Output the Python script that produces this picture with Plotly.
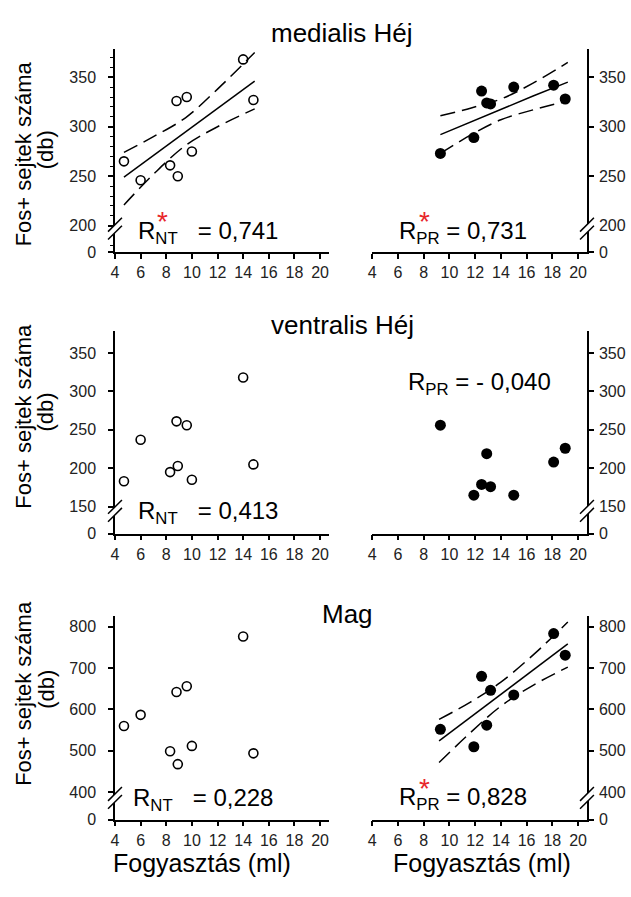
import plotly.graph_objects as go

W, H = 631, 897

# x values (Fogyasztás, ml) for the two groups
nt_x = [4.7, 6.0, 8.3, 8.8, 8.9, 9.6, 10.0, 14.0, 14.8]
pr_x = [9.3, 11.9, 12.5, 12.9, 13.2, 15.0, 18.1, 19.0]

# Fos+ cell counts
med_nt = [265, 246, 261, 326, 250, 330, 275, 368, 327]
med_pr = [273, 289, 336, 324, 323, 340, 342, 328]
ven_nt = [183, 237, 195, 261, 203, 256, 185, 318, 205]
ven_pr = [256, 165, 179, 219, 176, 165, 208, 226]
mag_nt = [560, 587, 499, 642, 468, 656, 512, 776, 494]
mag_pr = [552, 510, 680, 562, 646, 635, 783, 731]

# regression lines with confidence bands
med_nt_fx = [4.7, 7.0, 9.5, 12.0, 14.9]
med_nt_fit = [249, 271, 295, 319, 346]
med_nt_hi = [274, 290, 309, 338, 375]
med_nt_lo = [221, 252, 281, 300, 318]

med_pr_fx = [9.3, 11.7, 14.0, 16.5, 19.2]
med_pr_fit = [292, 305, 318, 331, 345]
med_pr_hi = [311, 319, 328, 344, 365]
med_pr_lo = [273, 292, 307, 317, 326]

mag_pr_fx = [9.2, 11.6, 14.0, 16.6, 19.2]
mag_pr_fit = [524, 580, 637, 697, 758]
mag_pr_hi = [576, 617, 666, 734, 811]
mag_pr_lo = [472, 543, 608, 660, 702]

x_ticks = [4, 6, 8, 10, 12, 14, 16, 18, 20]
top_ticks = [200, 250, 300, 350]
mid_ticks = [150, 200, 250, 300, 350]
bot_ticks = [400, 500, 600, 700, 800]

titles = ["medialis Héj", "ventralis Héj", "Mag"]
r_labels = [("NT", "0,741", True), ("PR", "0,731", True),
            ("NT", "0,413", False), ("PR", "- 0,040", False),
            ("NT", "0,228", False), ("PR", "0,828", True)]

FONT = "Arial, Liberation Sans, sans-serif"


def px(x):
    return x / W


def py(y):
    return 1 - y / H


def label(text, x, y, size, color="black", angle=0, xanchor="center"):
    return dict(text=text, x=px(x), y=py(y), xref="paper", yref="paper",
                xanchor=xanchor, yanchor="middle", textangle=angle, showarrow=False,
                font=dict(family=FONT, size=size, color=color))


# pixel layout of the rows: (top, bottom), y range bottom/top, ticks
rows = [
    dict(top=50, bot=255, rng=[173, 378], ticks=top_ticks, brk=231),
    dict(top=334, bot=539, rng=[115, 379], ticks=mid_ticks, brk=516),
    dict(top=622, bot=828, rng=[334, 826], ticks=bot_ticks, brk=806),
]
cols = [
    dict(l=111.7, r=326.7, rng=[4, 20.67], side="left", standoff=9),
    dict(l=370.0, r=586.7, rng=[3.96, 20.69], side="right", standoff=2),
]

data_sets = [(med_nt, med_pr), (ven_nt, ven_pr), (mag_nt, mag_pr)]
fits = {(0, 0): (med_nt_fx, med_nt_fit, med_nt_hi, med_nt_lo),
        (0, 1): (med_pr_fx, med_pr_fit, med_pr_hi, med_pr_lo),
        (2, 1): (mag_pr_fx, mag_pr_fit, mag_pr_hi, mag_pr_lo)}

fig = go.Figure()
layout = {}
shapes = []
annotations = []

n = 0
for ri, row in enumerate(rows):
    for ci, col in enumerate(cols):
        n += 1
        xa = "x" if n == 1 else f"x{n}"
        ya = "y" if n == 1 else f"y{n}"
        xs = nt_x if ci == 0 else pr_x
        ys = data_sets[ri][ci]

        if (ri, ci) in fits:
            fx, fy, hi, lo = fits[(ri, ci)]
            fig.add_trace(go.Scatter(x=fx, y=fy, mode="lines", xaxis=xa, yaxis=ya,
                                     line=dict(color="black", width=1.5)))
            for band in (hi, lo):
                fig.add_trace(go.Scatter(x=fx, y=band, mode="lines", xaxis=xa, yaxis=ya,
                                         line=dict(color="black", width=1.5, dash="15px,7px",
                                                   shape="spline")))

        if ci == 0:
            marker = dict(symbol="circle-open", size=9, color="black",
                          line=dict(width=1.6, color="black"))
        else:
            marker = dict(symbol="circle", size=11, color="black")
        fig.add_trace(go.Scatter(x=xs, y=ys, mode="markers", xaxis=xa, yaxis=ya,
                                 marker=marker, cliponaxis=False))

        tickfont = dict(family=FONT, size=16, color="#222")
        layout["xaxis" if n == 1 else f"xaxis{n}"] = dict(
            domain=[px(col["l"]), px(col["r"])], range=col["rng"], anchor=ya,
            showline=True, linecolor="black", linewidth=1.5, showgrid=False,
            zeroline=False, ticks="outside", ticklen=5, tickwidth=1.5,
            tickcolor="black", tickmode="array", tickvals=x_ticks,
            tickfont=tickfont, fixedrange=True)
        yv = [row["rng"][0]] + row["ticks"]
        yt = ["0"] + [str(t) for t in row["ticks"]]
        yax = dict(
            domain=[py(row["bot"]), py(row["top"])], range=row["rng"], anchor=xa,
            side=col["side"], showline=True, linecolor="black", linewidth=1.5,
            showgrid=False, zeroline=False, ticks="outside", ticklen=5,
            tickwidth=1.5, tickcolor="black", tickmode="array", tickvals=yv,
            ticktext=yt, tickfont=tickfont, ticklabelstandoff=col["standoff"],
            fixedrange=True)
        if n == 1:
            yax["minor"] = dict(tickmode="linear", tick0=0, dtick=10, ticks="outside",
                                ticklen=3, tickwidth=1, tickcolor="black")
        layout["yaxis" if n == 1 else f"yaxis{n}"] = yax

        # axis break "//"
        ax = col["l"] if ci == 0 else col["r"]
        yc = row["brk"]
        d, o = 7, 4
        pts = [(ax - d, yc - o + d), (ax + d, yc - o - d), (ax + d, yc + o - d), (ax - d, yc + o + d)]
        path = "M " + " L ".join(f"{px(a):.5f},{py(b):.5f}" for a, b in pts) + " Z"
        shapes.append(dict(type="path", path=path, xref="paper", yref="paper",
                           fillcolor="white", line=dict(width=0)))
        for (a, b), (c, e) in [(pts[0], pts[1]), (pts[3], pts[2])]:
            shapes.append(dict(type="line", xref="paper", yref="paper",
                               x0=px(a), y0=py(b), x1=px(c), y1=py(e),
                               line=dict(color="black", width=1.5)))

# correlation labels
r_pos = [(133, 235), (396, 235), (133, 518), (405, 387), (128, 808), (396, 807)]
for (sub, val, star), (x0, y0) in zip(r_labels, r_pos):
    gap = "&nbsp;&nbsp;" if sub == "NT" else ""
    annotations.append(label(f"R<sub>{sub}</sub>{gap} = {val}", x0, y0, 24, xanchor="left"))
    if star:
        annotations.append(label("*", x0 + 27, y0 - 11, 28, color="#e8262a"))

# panel titles
for t, (x0, y0) in zip(titles, [(340, 33), (341, 328), (346, 620)]):
    annotations.append(label(t, x0, y0, 26))

# y axis titles
for yc in [155, 420, 700]:
    annotations.append(label("Fos+ sejtek száma", 20, yc, 22, angle=-90))
    annotations.append(label("(db)", 42, yc - 4, 22, angle=-90))

# x axis titles
for xc in [199, 481]:
    annotations.append(label("Fogyasztás (ml)", xc, 872, 25))

fig.update_layout(**layout)
fig.update_layout(width=W, height=H, margin=dict(l=0, r=0, t=0, b=0),
                  paper_bgcolor="white", plot_bgcolor="white", showlegend=False,
                  shapes=shapes, annotations=annotations)

fig.write_html("out.html", config={"displayModeBar": False},
               post_script="document.body.style.margin='0';")
